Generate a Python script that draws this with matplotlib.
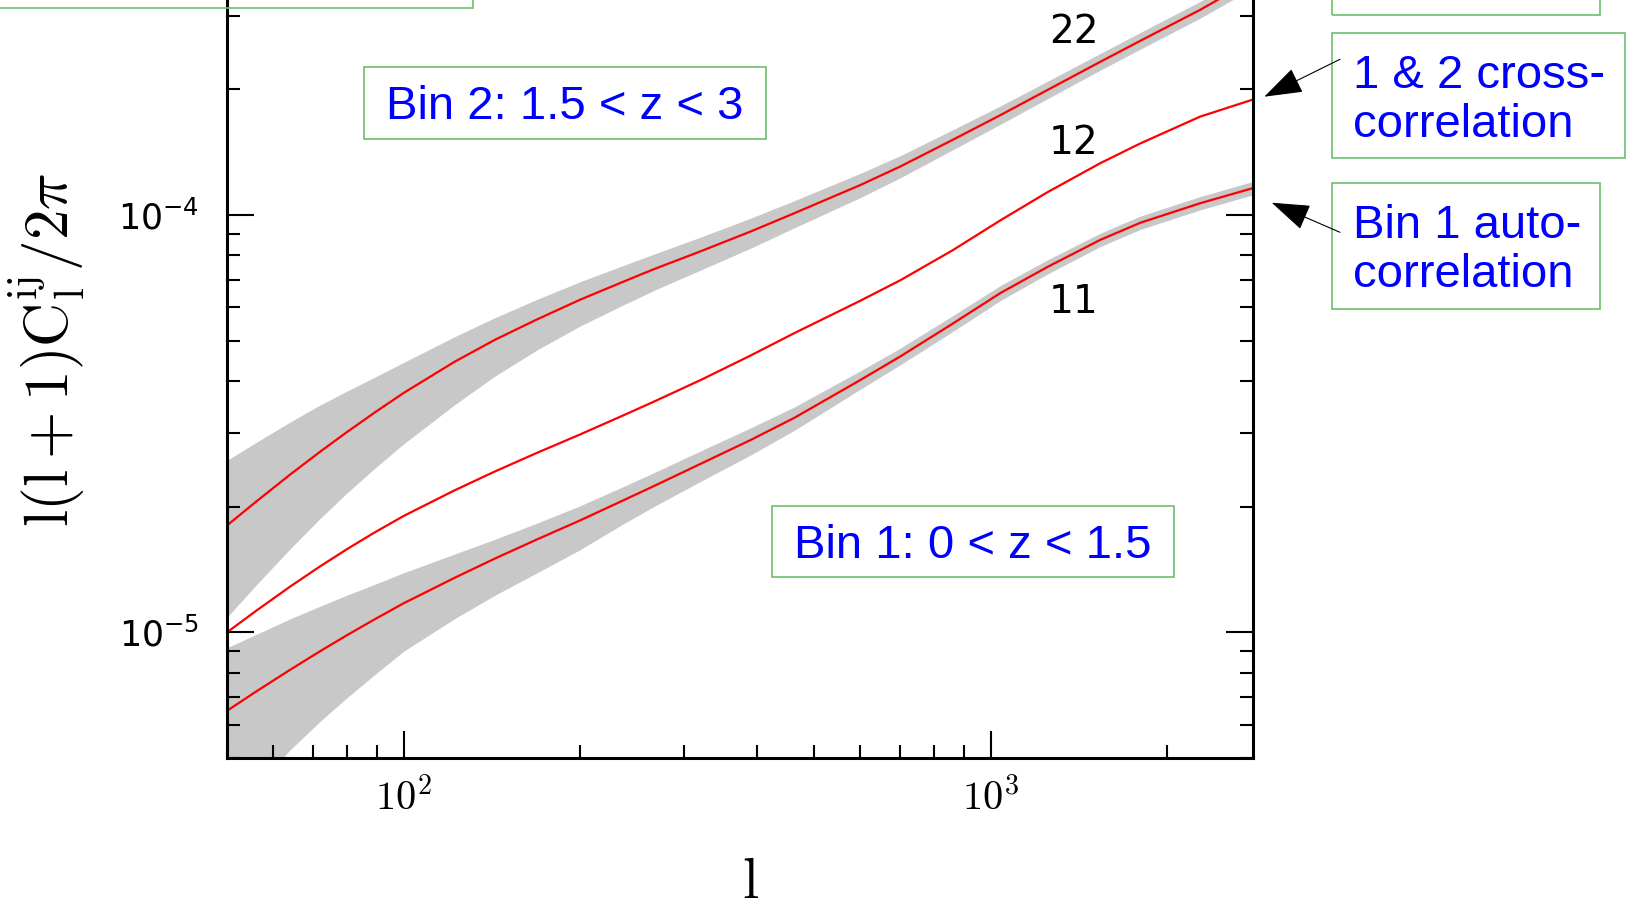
import numpy as np
import matplotlib
matplotlib.use("Agg")
import matplotlib.pyplot as plt
from matplotlib.patches import Rectangle, FancyArrowPatch
from matplotlib.ticker import LogLocator, NullFormatter

ell = [50, 56, 64, 72, 80, 89, 100, 122, 143, 169, 200, 235, 267, 321, 390, 463,
       601, 702, 860, 1040, 1250, 1540, 1800, 2275, 2800]

# l(l+1)C_l/2pi : bin 2 auto (22), 1-2 cross (12), bin 1 auto (11)
c22 = [1.803e-5, 2.054e-5, 2.385e-5, 2.706e-5, 3.016e-5, 3.352e-5, 3.745e-5, 4.444e-5,
       5.019e-5, 5.623e-5, 6.266e-5, 6.887e-5, 7.413e-5, 8.185e-5, 9.12e-5, 1.009e-4,
       1.180e-4, 1.306e-4, 1.510e-4, 1.734e-4, 1.991e-4, 2.328e-4, 2.612e-4, 3.097e-4, 3.656e-4]
c12 = [1.0e-5, 1.125e-5, 1.286e-5, 1.438e-5, 1.581e-5, 1.731e-5, 1.900e-5, 2.187e-5,
       2.428e-5, 2.694e-5, 2.980e-5, 3.294e-5, 3.570e-5, 4.024e-5, 4.603e-5, 5.208e-5,
       6.235e-5, 6.973e-5, 8.211e-5, 9.707e-5, 1.133e-4, 1.331e-4, 1.483e-4, 1.719e-4, 1.889e-4]
c11 = [6.486e-6, 7.208e-6, 8.128e-6, 9.005e-6, 9.838e-6, 1.072e-5, 1.174e-5, 1.350e-5,
       1.502e-5, 1.671e-5, 1.855e-5, 2.061e-5, 2.241e-5, 2.535e-5, 2.888e-5, 3.264e-5,
       4.027e-5, 4.581e-5, 5.477e-5, 6.500e-5, 7.502e-5, 8.719e-5, 9.574e-5, 1.066e-4, 1.159e-4]

# grey error bands: width above / below the curve, in dex
up22 = [0.156, 0.142, 0.126, 0.112, 0.098, 0.085, 0.073, 0.06, 0.053, 0.048, 0.043, 0.039, 0.036,
        0.034, 0.032, 0.03, 0.028, 0.026, 0.024, 0.022, 0.021, 0.02, 0.02, 0.02, 0.02]
lo22 = [0.22, 0.2, 0.178, 0.16, 0.146, 0.134, 0.122, 0.103, 0.087, 0.073, 0.063, 0.056, 0.051,
        0.045, 0.04, 0.035, 0.03, 0.027, 0.024, 0.022, 0.021, 0.02, 0.02, 0.02, 0.02]
up11 = [0.151, 0.137, 0.122, 0.108, 0.096, 0.084, 0.073, 0.057, 0.046, 0.039, 0.035, 0.033, 0.032,
        0.031, 0.029, 0.026, 0.022, 0.02, 0.019, 0.018, 0.017, 0.016, 0.016, 0.016, 0.016]
lo11 = [0.26, 0.225, 0.192, 0.168, 0.15, 0.133, 0.115, 0.098, 0.088, 0.08, 0.07, 0.057, 0.049,
        0.042, 0.036, 0.03, 0.022, 0.02, 0.019, 0.018, 0.017, 0.016, 0.016, 0.016, 0.016]

xticks = [100, 1000]
xlabels = [r'$10^2$', r'$10^3$']
yticks = [1e-5, 1e-4]
ylabels = [r'$10^{-5}$', r'$10^{-4}$']

W, H = 1628, 907
plt.rcParams['font.family'] = 'DejaVu Sans'

fig = plt.figure(figsize=(W / 100, H / 100), dpi=100)
# axes top runs past the figure edge, like the cropped original
ax = fig.add_axes([227 / W, 149 / H, 1026 / W, 0.87596])

l = np.array(ell)
for c, up, lo in [(c22, up22, lo22), (c11, up11, lo11)]:
    c = np.array(c)
    ax.fill_between(l, c * 10 ** np.array(up), c / 10 ** np.array(lo), color='#c8c8c8', lw=0)
for c in [c22, c12, c11]:
    ax.plot(l, c, color='red', lw=1.6)

ax.set_xscale('log')
ax.set_yscale('log')
ax.set_xlim(50, 2800)
ax.set_ylim(5e-6, 4e-4)

ax.set_xticks(xticks, labels=xlabels)
ax.set_yticks(yticks, labels=ylabels)
ax.xaxis.set_minor_locator(LogLocator(base=10, subs=np.arange(2, 10), numticks=20))
ax.yaxis.set_minor_locator(LogLocator(base=10, subs=np.arange(2, 10), numticks=20))
ax.xaxis.set_minor_formatter(NullFormatter())
ax.yaxis.set_minor_formatter(NullFormatter())

ax.tick_params(which='both', direction='in', top=True, right=True, width=1.5, color='black')
ax.tick_params(which='major', length=19.5)
ax.tick_params(which='minor', length=9.5)
ax.tick_params(axis='y', labelsize=25, pad=20)
ax.tick_params(axis='x', labelsize=29, pad=15)
for lab in ax.get_xticklabels():
    lab.set_math_fontfamily('cm')
for sp in ax.spines.values():
    sp.set_linewidth(2.2)

# curve labels
ax.text(1384, 2.74e-4, '22', fontsize=28, ha='center', va='center')
ax.text(1384, 1.487e-4, '12', fontsize=28, ha='center', va='center')
ax.text(1384, 6.19e-5, '11', fontsize=28, ha='center', va='center')

# axis titles
fig.text(47 / W, 1 - 350 / H, r'$\mathrm{l(l+1)C_l^{ij}}/2\pi$', fontsize=44,
         rotation=90, ha='center', va='center', math_fontfamily='cm')
fig.text(750 / W, 1 - 881 / H, r'$\mathrm{l}$', fontsize=42, ha='center', va='center',
         math_fontfamily='cm')


def fx(px):
    return px / W


def fy(py):
    return 1 - py / H


def box(x0, y0, x1, y1):
    fig.add_artist(Rectangle((fx(x0), fy(y1)), fx(x1) - fx(x0), fy(y0) - fy(y1),
                             transform=fig.transFigure, fill=False,
                             edgecolor='#6dbf6d', lw=1.2))


def note(x, y, s):
    # y is the baseline of the last line
    fig.text(fx(x), fy(y), s, fontsize=34, color='#0000ff', family='Liberation Sans',
             ha='left', va='baseline', linespacing=1.15)


def arrow(x0, y0, x1, y1):
    fig.add_artist(FancyArrowPatch((fx(x0), fy(y0)), (fx(x1), fy(y1)),
                                   transform=fig.transFigure,
                                   arrowstyle='-|>,head_length=1.75,head_width=0.6',
                                   mutation_scale=14, color='black', lw=0.8,
                                   shrinkA=0, shrinkB=0))


box(-10, -10, 473, 7.5)
box(1331.7, -10, 1600, 15)
box(364, 66.7, 765.7, 139.3)
note(385.7, 119, 'Bin 2: 1.5 < z < 3')
box(772.3, 506, 1174.3, 577.3)
note(794.3, 558.5, 'Bin 1: 0 < z < 1.5')
box(1331.7, 32.7, 1625.3, 158.3)
note(1352.7, 137.3, '1 & 2 cross-\ncorrelation')
box(1331.7, 183.3, 1600, 309.3)
note(1352.7, 287.3, 'Bin 1 auto-\ncorrelation')

arrow(1340, 59.3, 1264.3, 96.7)
arrow(1340, 232.3, 1271.7, 202.7)

fig.savefig('out.png', dpi=100)
